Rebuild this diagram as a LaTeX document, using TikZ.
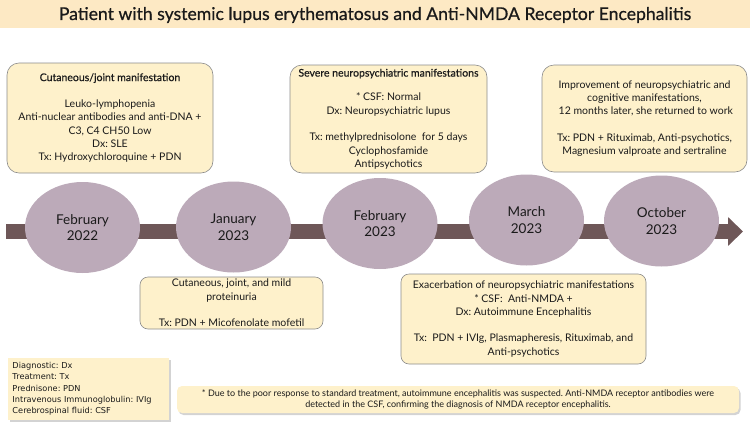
\documentclass[tikz,border=0pt]{standalone}
\usepackage{fontspec}
\setmainfont{Lato}
\newfontfamily\semibf[FakeBold=0.6]{Lato}
\newfontfamily\legendfont{DejaVu Sans}
\usepackage{xcolor}
\definecolor{bandpeach}{HTML}{FDE9C4}
\definecolor{boxcream}{HTML}{FEF1CB}
\definecolor{boxline}{HTML}{8C8C8C}
\definecolor{datemauve}{HTML}{BCAAB9}
\definecolor{barbrown}{HTML}{6E5758}
\definecolor{inkblack}{HTML}{1A1A1A}
\usepackage{tikz}
\usetikzlibrary{shapes.geometric, arrows.meta, positioning, shadows}
\frenchspacing
\tikzset{
  datenode/.style ={ellipse, fill=datemauve, text=inkblack, align=center, inner sep=0pt,
                    minimum width=115pt, minimum height=91pt, font=\fontsize{13.5}{16.7}\selectfont},
  eventbox/.style ={rectangle, rounded corners=12pt, draw=boxline, line width=0.6pt, fill=boxcream,
                    text=inkblack, align=center, inner sep=0pt, font=\fontsize{10.5}{13.3}\selectfont},
  eventboxs/.style={eventbox, rounded corners=8pt},
  notebox/.style  ={rectangle, fill=boxcream, text=inkblack, inner sep=0pt,
                    drop shadow={shadow xshift=1.5pt, shadow yshift=-2pt, opacity=0.35},
                    font=\fontsize{9}{11}\selectfont},
  timebar/.style  ={-{Triangle[length=15pt, width=28pt]}, line width=15pt, color=barbrown},
}

\begin{document}
\begin{tikzpicture}[x=1pt, y=-1pt]
  \useasboundingbox (0,0) rectangle (750,426);
  % title band
  \fill[bandpeach] (0,0) rectangle (750,28);
  \node[text=inkblack, font=\semibf\fontsize{17.6}{20}\selectfont] (title) at (375,15)
    {Patient with systemic lupus erythematosus and Anti-NMDA Receptor Encephalitis};

  % time line
  \coordinate (barstart) at (6,231.5);
  \coordinate (barend) at (743,231.5);
  \draw[timebar] (barstart) -- (barend);

  \node[datenode] (d1) at (82.5,227.5) {February\\2022};
  \node[datenode] (d2) at (233.5,227) {January\\2023};
  \node[datenode] (d3) at (380,223.5) {February\\2023};
  \node[datenode] (d4) at (526.5,220) {March\\2023};
  \node[datenode] (d5) at (661.5,221) {October\\2023};

  % events above
  \node[eventbox, minimum width=206pt, minimum height=110pt] (e1) at (110,118)
    {{\semibf Cutaneous/joint manifestation}\\[13.3pt]
     Leuko-lymphopenia\\
     Anti-nuclear antibodies and anti-DNA +\\
     C3, C4 CH50 Low\\
     Dx: SLE\\
     Tx: Hydroxychloroquine + PDN};
  \node[eventbox, minimum width=197pt, minimum height=108pt] (e3) at (388.5,119)
    {{\semibf Severe neuropsychiatric manifestations}\\[11pt]
     * CSF: Normal\\
     Dx: Neuropsychiatric lupus\\[13.3pt]
     Tx: methylprednisolone~ for 5 days\\
     Cyclophosfamide\\
     Antipsychotics};
  \node[eventbox, minimum width=205pt, minimum height=107pt] (e5) at (644.5,118.5)
    {Improvement of neuropsychiatric and\\
     cognitive manifestations,\\
     ~12 months later, she returned to work\\[13.3pt]
     Tx: PDN + Rituximab, Anti-psychotics,\\
     Magnesium valproate and sertraline};

  % events below
  \node[eventboxs, minimum width=183pt, minimum height=52pt] (e2) at (231.5,303)
    {Cutaneous, joint, and mild\\
     proteinuria\\[13.3pt]
     Tx: PDN + Micofenolate mofetil};
  \node[eventboxs, minimum width=245pt, minimum height=90pt] (e4) at (523.5,319)
    {Exacerbation of neuropsychiatric manifestations\\
     * CSF:~ Anti-NMDA +\\
     Dx: Autoimmune Encephalitis\\[13.3pt]
     Tx:~ PDN + IVIg, Plasmapheresis, Rituximab, and\\
     Anti-psychotics};

  % abbreviations and footnote
  \node[notebox, align=left, text width=152pt, minimum width=161pt, minimum height=62pt,
        font=\legendfont\fontsize{8.2}{11.3}\selectfont] (abbrev) at (88.5,389)
    {Diagnostic: Dx\\
     Treatment: Tx\\
     Prednisone: PDN\\
     Intravenous Immunoglobulin: IVIg\\
     Cerebrospinal fluid: CSF};
  \node[notebox, rounded corners=5pt, align=center, minimum width=562pt, minimum height=27pt] (footnote) at (458,399.5)
    {* Due to the poor response to standard treatment, autoimmune encephalitis was suspected. Anti-NMDA receptor antibodies were\\
     detected in the CSF, confirming the diagnosis of NMDA receptor encephalitis.};
\end{tikzpicture}
\end{document}
